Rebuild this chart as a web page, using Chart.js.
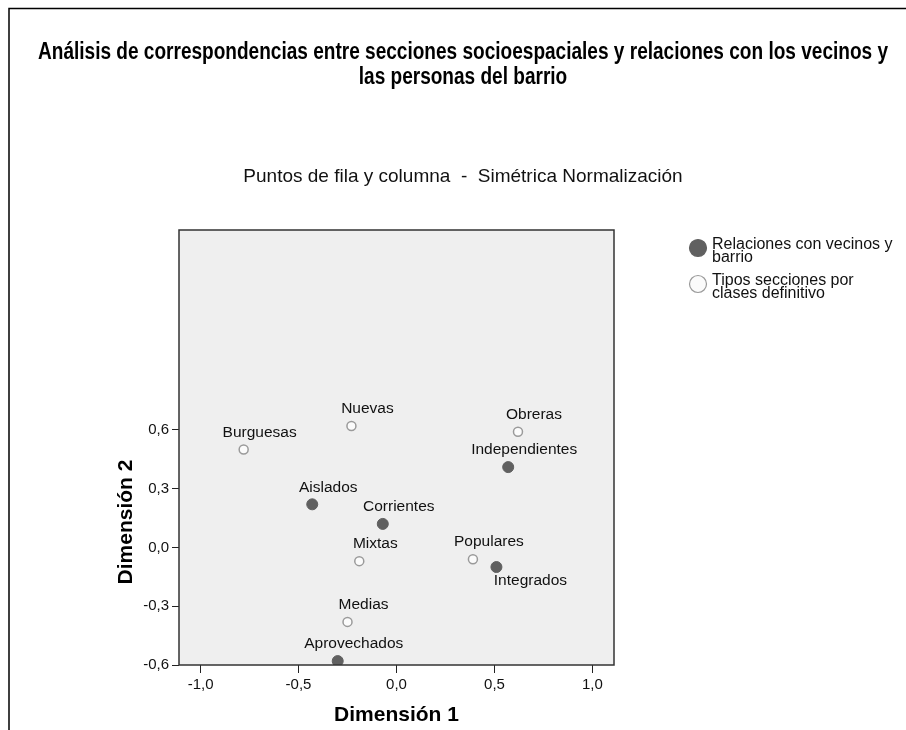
<!DOCTYPE html>
<html>
<head>
<meta charset="utf-8">
<script src="https://cdn.jsdelivr.net/npm/chart.js@4.4.0/dist/chart.umd.min.js"></script>
<style>
  html, body { margin: 0; padding: 0; background: #fff; }
  #wrap { width: 906px; height: 730px; }
</style>
</head>
<body>
<div id="wrap"><canvas id="myChart" width="906" height="730"></canvas></div>
<script>
    // Relaciones con vecinos y barrio (filled points)
    const relNames = ['Aislados', 'Corrientes', 'Independientes', 'Integrados', 'Aprovechados']
    const relDim1 = [-0.43, -0.07, 0.57, 0.51, -0.30]
    const relDim2 = [0.22, 0.12, 0.41, -0.10, -0.58]

    // Tipos secciones por clases definitivo (hollow points)
    const secNames = ['Burguesas', 'Nuevas', 'Obreras', 'Mixtas', 'Populares', 'Medias']
    const secDim1 = [-0.78, -0.23, 0.62, -0.19, 0.39, -0.25]
    const secDim2 = [0.50, 0.62, 0.59, -0.07, -0.06, -0.38]

    const xTicks = [-1.0, -0.5, 0.0, 0.5, 1.0]
    const yTicks = [-0.6, -0.3, 0.0, 0.3, 0.6]

    const titleLines = ['Análisis de correspondencias entre secciones socioespaciales y relaciones con los vecinos y', 'las personas del barrio']
    const subtitle = 'Puntos de fila y columna  -  Simétrica Normalización'
    const labelsBelow = ['Integrados']

    const FONT = '"Liberation Sans", Arial, sans-serif'
    const NARROW = '"Liberation Sans Narrow", "Arial Narrow", "Liberation Sans", sans-serif'
    const fmt = v => v.toFixed(1).replace('.', ',')

    const toPoints = (xs, ys) => xs.map((x, i) => ({x: x, y: ys[i]}))

    const decor = {
        id: 'decor',
        beforeDraw(chart) {
            const {ctx, chartArea: a} = chart
            ctx.save()
            ctx.fillStyle = '#ffffff'
            ctx.fillRect(0, 0, chart.width, chart.height)
            ctx.fillStyle = '#efefef'
            ctx.fillRect(a.left, a.top, a.right - a.left, a.bottom - a.top)
            ctx.restore()
        },
        afterDatasetsDraw(chart) {
            const ctx = chart.ctx
            ctx.save()
            ctx.font = '15.5px ' + FONT
            ctx.fillStyle = '#111'
            ctx.textAlign = 'center'
            ctx.textBaseline = 'middle'
            chart.data.datasets.forEach((ds, di) => {
                const meta = chart.getDatasetMeta(di)
                meta.data.forEach((pt, i) => {
                    const name = ds.names[i]
                    if (labelsBelow.includes(name)) {
                        ctx.fillText(name, pt.x + 34, pt.y + 14)
                    } else {
                        ctx.fillText(name, pt.x + 16, pt.y - 17)
                    }
                })
            })
            ctx.restore()
        },
        afterDraw(chart) {
            const {ctx, chartArea: a} = chart
            ctx.save()
            // plot frame
            ctx.strokeStyle = '#333'
            ctx.lineWidth = 1.5
            ctx.strokeRect(a.left, a.top, a.right - a.left, a.bottom - a.top)
            // outer frame
            ctx.strokeStyle = '#000'
            ctx.lineWidth = 1.5
            ctx.beginPath()
            ctx.moveTo(9, chart.height)
            ctx.lineTo(9, 8.5)
            ctx.lineTo(chart.width, 8.5)
            ctx.stroke()

            // title (condensed bold, stretched to the width of the original)
            ctx.fillStyle = '#000'
            ctx.textAlign = 'center'
            ctx.textBaseline = 'alphabetic'
            ctx.font = 'bold 23px ' + NARROW
            const sx = 850 / ctx.measureText(titleLines[0]).width
            ctx.save()
            ctx.translate(463, 0)
            ctx.scale(sx, 1)
            ctx.fillText(titleLines[0], 0, 59)
            ctx.fillText(titleLines[1], 0, 84)
            ctx.restore()

            ctx.font = '19px ' + FONT
            ctx.fillStyle = '#111'
            ctx.fillText(subtitle, 463, 182)

            // axis titles
            ctx.textBaseline = 'middle'
            ctx.font = 'bold 21px ' + FONT
            ctx.fillStyle = '#000'
            ctx.fillText('Dimensión 1', chart.scales.x.getPixelForValue(0), 715)
            ctx.save()
            ctx.translate(126, 522)
            ctx.rotate(-Math.PI / 2)
            ctx.fillText('Dimensión 2', 0, 0)
            ctx.restore()

            // legend
            ctx.font = '16px ' + FONT
            ctx.textAlign = 'left'
            ctx.textBaseline = 'alphabetic'
            const ys = [248, 284]
            chart.data.datasets.forEach((ds, i) => {
                const y = ys[i]
                ctx.beginPath()
                ctx.arc(698, y, 8.5, 0, Math.PI * 2)
                ctx.fillStyle = ds.pointBackgroundColor
                ctx.fill()
                ctx.lineWidth = 1.2
                ctx.strokeStyle = ds.pointBorderColor
                ctx.stroke()
                ctx.fillStyle = '#111'
                ds.label.split('\n').forEach((line, j) => {
                    ctx.fillText(line, 712, y + 1 + j * 13)
                })
            })
            ctx.restore()
        }
    }

    const ctx = document.getElementById('myChart').getContext('2d')

    const chart = new Chart(ctx, {
        type: 'scatter',
        data: {
            datasets: [{
                label: 'Relaciones con vecinos y\nbarrio',
                names: relNames,
                data: toPoints(relDim1, relDim2),
                pointBackgroundColor: '#606060',
                pointBorderColor: '#606060',
                pointRadius: 5.5,
                pointBorderWidth: 1,
                clip: 0
            }, {
                label: 'Tipos secciones por\nclases definitivo',
                names: secNames,
                data: toPoints(secDim1, secDim2),
                pointBackgroundColor: '#fbfbfb',
                pointBorderColor: '#9a9a9a',
                pointRadius: 4.5,
                pointBorderWidth: 1.5,
                clip: 0
            }]
        },
        options: {
            responsive: false,
            animation: false,
            events: [],
            layout: { padding: { top: 230, right: 292, left: 0, bottom: 0 } },
            plugins: {
                legend: { display: false },
                title: { display: false },
                tooltip: { enabled: false }
            },
            scales: {
                x: {
                    type: 'linear',
                    min: -1.11,
                    max: 1.11,
                    afterBuildTicks: s => { s.ticks = xTicks.map(v => ({value: v})) },
                    afterFit: s => { s.height = 65 },
                    border: { display: false },
                    grid: { drawOnChartArea: false, drawTicks: true, tickLength: 8, color: '#222' },
                    ticks: {
                        color: '#111',
                        font: { family: FONT, size: 15 },
                        padding: 3,
                        maxRotation: 0,
                        autoSkip: false,
                        callback: v => fmt(v)
                    }
                },
                y: {
                    type: 'linear',
                    min: -0.6,
                    max: 1.62,
                    afterBuildTicks: s => { s.ticks = yTicks.map(v => ({value: v})) },
                    afterFit: s => { s.width = 179 },
                    border: { display: false },
                    grid: { drawOnChartArea: false, drawTicks: true, tickLength: 7, color: '#222' },
                    ticks: {
                        color: '#111',
                        font: { family: FONT, size: 15 },
                        padding: 3,
                        autoSkip: false,
                        callback: v => fmt(v)
                    }
                }
            }
        },
        plugins: [decor]
    })
</script>
</body>
</html>
